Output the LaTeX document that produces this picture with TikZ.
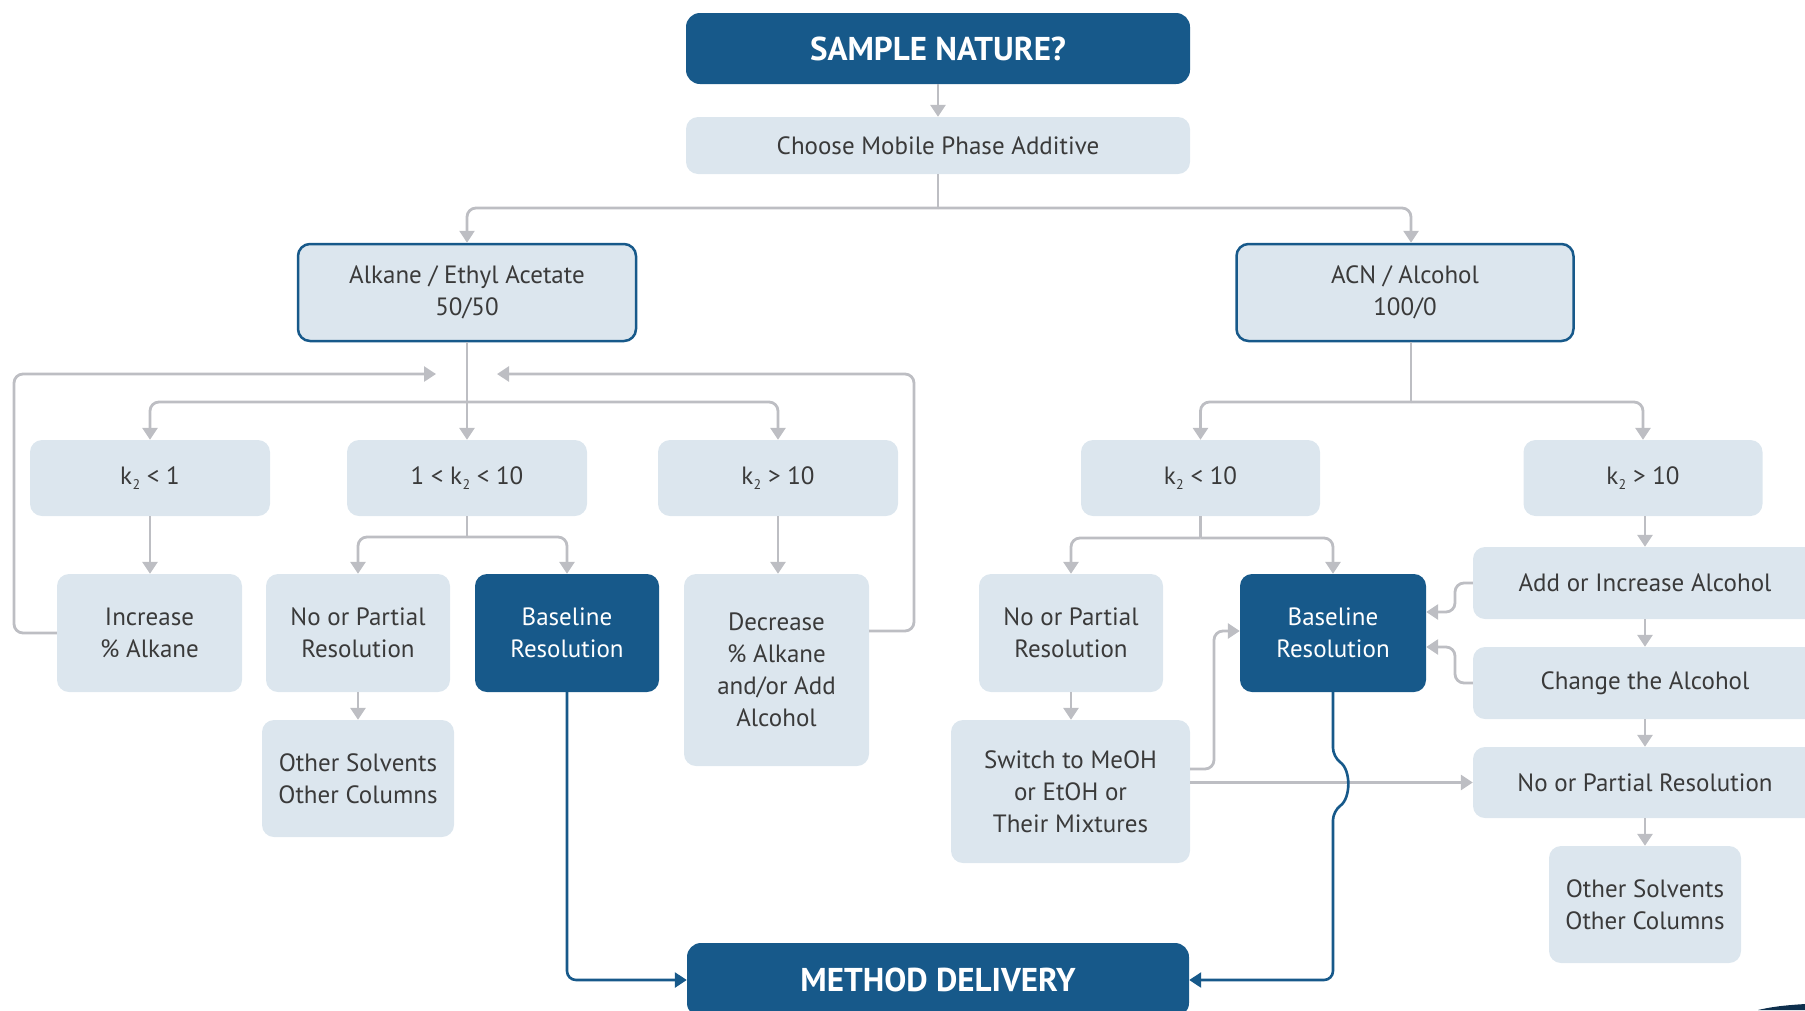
\documentclass[tikz,border=0pt]{standalone}
\usepackage{fontspec}
\setmainfont{PT Sans}
\usetikzlibrary{arrows.meta,calc}
\definecolor{navy}{HTML}{17598A}
\definecolor{lightbg}{HTML}{DCE6EE}
\definecolor{gline}{HTML}{BDBEC3}
\definecolor{txt}{HTML}{3A3A3A}
\definecolor{swoosh}{HTML}{0E2F4D}
\newcommand\kk{k\kern0.3pt\raisebox{-5pt}{\fontsize{14}{14}\selectfont 2}}
\begin{document}
\begin{tikzpicture}[x=1pt,y=-1pt,
  base/.style={rounded corners=12pt, inner sep=0pt, align=center, font=\fontsize{25}{32}\selectfont},
  lbox/.style={base, fill=lightbg, text=txt},
  obox/.style={base, fill=lightbg, text=txt, draw=navy, line width=2.5pt},
  dbox/.style={base, fill=navy, text=white},
  hbox/.style={base, rounded corners=14pt, fill=navy, text=white, font=\fontsize{33}{38}\selectfont\bfseries},
  gl/.style={draw=gline, line width=2.8pt, rounded corners=9pt},
  ga/.style={gl, -{Triangle[width=15pt,length=12pt]}},
  ba/.style={draw=navy, line width=2.6pt, rounded corners=9pt, -{Triangle[width=15pt,length=12pt]}},
]
\useasboundingbox (0,0) rectangle (1805,1010);
\clip (0,0) rectangle (1805,1010);

% nodes
\node[hbox, minimum width=504pt, minimum height=71pt] (sample) at (938,48.5) {SAMPLE NATURE?};
\node[lbox, minimum width=504pt, minimum height=57pt] (choose) at (938,145.5) {Choose Mobile Phase Additive};
\node[obox, minimum width=338pt, minimum height=97pt] (alk) at (467,292.5) {Alkane / Ethyl Acetate\\50/50};
\node[obox, minimum width=337pt, minimum height=97pt] (acn) at (1405,292.5) {ACN / Alcohol\\100/0};

\node[lbox, minimum width=240pt, minimum height=76pt] (k1) at (150,478) {\kk{} < 1};
\node[lbox, minimum width=240pt, minimum height=76pt] (k110) at (467,478) {1 < \kk{} < 10};
\node[lbox, minimum width=240pt, minimum height=76pt] (k10a) at (778,478) {\kk{} > 10};
\node[lbox, minimum width=239pt, minimum height=76pt] (k10b) at (1200.5,478) {\kk{} < 10};
\node[lbox, minimum width=239pt, minimum height=76pt] (k10c) at (1643,478) {\kk{} > 10};

\node[lbox, minimum width=185pt, minimum height=118pt] (inc) at (149.5,633) {Increase\\\% Alkane};
\node[lbox, minimum width=184pt, minimum height=118pt] (nopl) at (358,633) {No or Partial\\Resolution};
\node[dbox, minimum width=184pt, minimum height=118pt] (basel) at (567,633) {Baseline\\Resolution};
\node[lbox, minimum width=185pt, minimum height=192pt] (decr) at (776.5,670) {Decrease\\\% Alkane\\and/or Add\\Alcohol};
\node[lbox, minimum width=192pt, minimum height=117pt] (othl) at (358,778.5) {Other Solvents\\Other Columns};

\node[lbox, minimum width=184pt, minimum height=118pt] (nopr) at (1071,633) {No or Partial\\Resolution};
\node[dbox, minimum width=186pt, minimum height=118pt] (baser) at (1333,633) {Baseline\\Resolution};
\node[lbox, minimum width=239pt, minimum height=143pt] (switch) at (1070.5,791.5) {Switch to MeOH\\or EtOH or\\Their Mixtures};

\node[lbox, minimum width=344pt, minimum height=72pt] (add) at (1645,583) {Add or Increase Alcohol};
\node[lbox, minimum width=344pt, minimum height=72pt] (change) at (1645,683) {Change the Alcohol};
\node[lbox, minimum width=344pt, minimum height=71pt] (nopres) at (1645,782.5) {No or Partial Resolution};
\node[lbox, minimum width=192pt, minimum height=117pt] (othr) at (1645,904.5) {Other Solvents\\Other Columns};

\node[hbox, minimum width=502pt, minimum height=74pt] (method) at (938,980) {METHOD DELIVERY};

% connectors: top
\coordinate (j1) at (938,208);
\draw[ga] (sample.south) -- (choose.north);
\draw[gl] (choose.south) -- (j1);
\draw[ga] (j1) -| (alk.north);
\draw[ga] (j1) -| ($(acn.north)+(6,0)$);

% left tree
\coordinate (j2) at (467,402);
\coordinate (fbL) at (436,374);
\coordinate (fbR) at (497,374);
\draw[ga] (alk.south) -- (k110.north);
\draw[ga] (j2) -| (k1.north);
\draw[ga] (j2) -| (k10a.north);
\draw[ga] (inc.west) -- (14,633) -- (14,374) -- (fbL);
\draw[ga] ($(decr.east)+(0,-39)$) -- (914,631) -- (914,374) -- (fbR);
\draw[ga] (k1.south) -- (k1.south |- inc.north);
\coordinate (j3) at (467,537);
\draw[gl] (k110.south) -- (j3);
\draw[ga] (j3) -| (nopl.north);
\draw[ga] (j3) -| (basel.north);
\draw[ga] (k10a.south) -- (k10a.south |- decr.north);
\draw[ga] (nopl.south) -- (othl.north);
\draw[ba] (basel.south) |- (method.west);

% right tree
\coordinate (j4) at (1411,402);
\draw[gl] ($(acn.south)+(6,0)$) -- (j4);
\draw[ga] (j4) -| (k10b.north);
\draw[ga] (j4) -| (k10c.north);
\coordinate (j5) at (1200.5,538);
\draw[gl] (k10b.south) -- (j5);
\draw[ga] (j5) -| (nopr.north);
\draw[ga] (j5) -| (baser.north);
\draw[ga] (nopr.south) -- (nopr.south |- switch.north);
\draw[ga] (add.north |- k10c.south) -- (add.north);
\draw[ga] (add.south) -- (change.north);
\draw[ga] (change.south) -- (nopres.north);
\draw[ga] (nopres.south) -- (othr.north);
\draw[ga] (add.west) -- (1455,583) -- (1455,612) -- ($(baser.east)+(0,-21)$);
\draw[ga] (change.west) -- (1455,683) -- (1455,647) -- ($(baser.east)+(0,14)$);
\draw[ga] ($(switch.east)+(0,-22.5)$) -- (1214,769) -- (1214,631) -- ($(baser.west)+(0,-2)$);
\draw[ga] (switch.east |- nopres.west) -- (nopres.west);
\draw[ba] (baser.south) -- (1333,757) .. controls (1351,770) and (1351,798) .. (1333,811) -- (1333,980) -- (method.east);

% decorative swoosh
\fill[swoosh] (1758,1010) .. controls (1775,1006) and (1790,1005) .. (1805,1004) -- (1805,1010) -- cycle;
\end{tikzpicture}
\end{document}
